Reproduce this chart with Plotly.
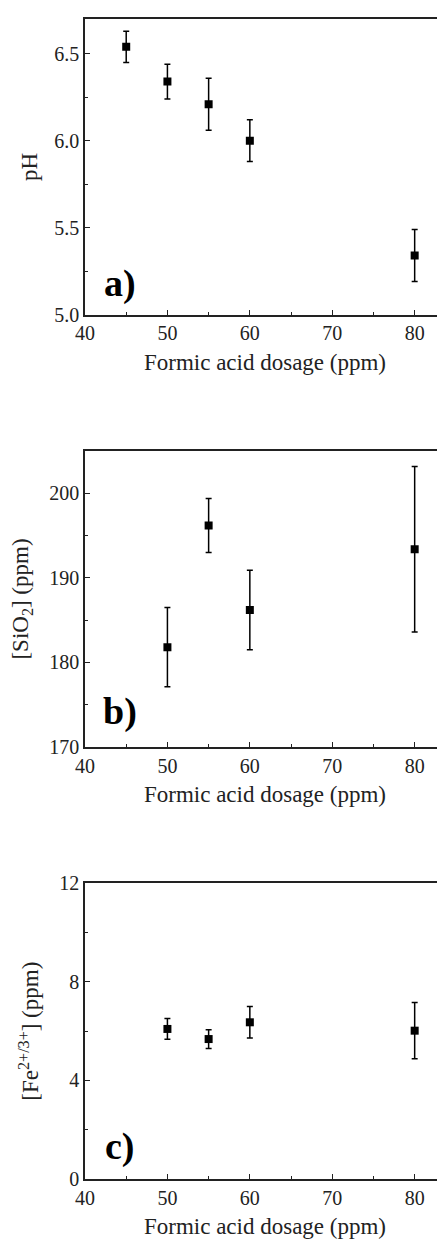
import plotly.graph_objects as go

# Data
dosage_a = [45, 50, 55, 60, 80]
ph_mean = [6.54, 6.34, 6.21, 6.00, 5.34]
ph_err = [0.09, 0.10, 0.15, 0.12, 0.15]

dosage_b = [50, 55, 60, 80]
sio2_mean = [181.8, 196.2, 186.2, 193.4]
sio2_err = [4.7, 3.2, 4.7, 9.8]

dosage_c = [50, 55, 60, 80]
fe_mean = [6.09, 5.68, 6.36, 6.02]
fe_err = [0.42, 0.38, 0.64, 1.14]

x_title = "Formic acid dosage (ppm)"
panel_labels = ["a)", "b)", "c)"]

FONT = "Liberation Serif, Times New Roman, serif"
AX = "#222222"

# page body has an 8px default margin: figure drawn at (8, 8)
OFF = 8
W, H = 445 - OFF, 1239 - OFF

fig = go.Figure()

def add_series(x, y, err, xa, ya):
    fig.add_trace(go.Scatter(
        x=x, y=y, mode="markers", xaxis=xa, yaxis=ya,
        marker=dict(symbol="square", size=8, color="black"),
        error_y=dict(type="data", array=err, visible=True,
                     color="black", thickness=1.5, width=3),
        showlegend=False,
    ))

add_series(dosage_a, ph_mean, ph_err, "x", "y")
add_series(dosage_b, sio2_mean, sio2_err, "x2", "y2")
add_series(dosage_c, fe_mean, fe_err, "x3", "y3")

# page-pixel geometry of the reference
left_px = 85.3
top_px = 11.7
bot_px = 1179.3
top = top_px - OFF
bottom = 1239 - bot_px
total = bot_px - top_px

def dom(py_top, py_bot):
    return [(bot_px - py_bot) / total, (bot_px - py_top) / total]

doms = [dom(11.7, 309.3), dom(446.7, 744.3), dom(881.7, 1179.3)]

def xaxis(anchor):
    return dict(
        range=[40, 83.68], dtick=10, tick0=40, anchor=anchor,
        showline=True, linecolor=AX, linewidth=1.5, mirror=True,
        ticks="inside", ticklen=5, tickwidth=1.3, tickcolor=AX,
        minor=dict(dtick=5, ticks="inside", ticklen=3, tickwidth=1.2, tickcolor=AX),
        showgrid=False, zeroline=False,
        tickfont=dict(family=FONT, size=20, color=AX),
        title=dict(text=x_title, font=dict(family=FONT, size=23, color=AX), standoff=10),
    )

def yaxis(anchor, rng, dtick, minor, domain, title, fmt=None, standoff=10):
    d = dict(
        range=rng, dtick=dtick, tick0=rng[0], anchor=anchor, domain=domain,
        showline=True, linecolor=AX, linewidth=1.5, mirror=False,
        ticks="inside", ticklen=5, tickwidth=1.3, tickcolor=AX,
        minor=dict(dtick=minor, ticks="inside", ticklen=3, tickwidth=1.2, tickcolor=AX),
        showgrid=False, zeroline=False,
        tickfont=dict(family=FONT, size=20, color=AX),
        title=dict(text=title, font=dict(family=FONT, size=23, color=AX), standoff=standoff),
    )
    if fmt:
        d["tickformat"] = fmt
    return d

fig.update_layout(
    width=W, height=H,
    margin=dict(l=left_px - OFF, r=0, t=top, b=bottom),
    paper_bgcolor="white", plot_bgcolor="white",
    xaxis=xaxis("y"),
    xaxis2=xaxis("y2"),
    xaxis3=xaxis("y3"),
    yaxis=yaxis("x", [5.0, 6.7], 0.5, 0.25, doms[0], "pH", ".1f", 10),
    yaxis2=yaxis("x2", [170, 205], 10, 5, doms[1], "[SiO<sub>2</sub>] (ppm)", None, 15),
    yaxis3=yaxis("x3", [0, 12], 4, 2, doms[2], "[Fe<sup>2+/3+</sup>] (ppm)", None, 14),
)

label_y = [277.5, 709, 1147]
for lab, py in zip(panel_labels, label_y):
    fig.add_annotation(
        text="<b>%s</b>" % lab, xref="paper", yref="paper",
        x=(120 - left_px) / (445 - left_px), y=(bot_px - py) / total,
        xanchor="center", yanchor="middle", showarrow=False,
        font=dict(family=FONT, size=38, color="black"),
    )

fig.write_html("out.html")
